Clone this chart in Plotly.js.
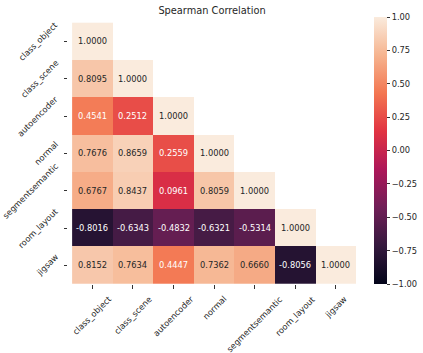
<!DOCTYPE html>
<html>
<head>
<meta charset="utf-8">
<script src="https://cdn.plot.ly/plotly-3.0.1.min.js"></script>
<style>
  html, body { margin: 0; padding: 0; background: #fff; }
  #chart { width: 423px; height: 353px; }
</style>
</head>
<body>
<div id="chart"></div>
<script>
// tasks, in matrix order
var tasks = ['class_object', 'class_scene', 'autoencoder', 'normal',
             'segmentsemantic', 'room_layout', 'jigsaw'];

// lower triangle of the Spearman matrix, one row per task
var rowClassObject    = [1.0000];
var rowClassScene     = [0.8095, 1.0000];
var rowAutoencoder    = [0.4541, 0.2512, 1.0000];
var rowNormal         = [0.7676, 0.8659, 0.2559, 1.0000];
var rowSegSemantic    = [0.6767, 0.8437, 0.0961, 0.8059, 1.0000];
var rowRoomLayout     = [-0.8016, -0.6343, -0.4832, -0.6321, -0.5314, 1.0000];
var rowJigsaw         = [0.8152, 0.7634, 0.4447, 0.7362, 0.6660, -0.8056, 1.0000];

var cbTicks = [-1, -0.75, -0.5, -0.25, 0, 0.25, 0.5, 0.75, 1];

var rows = [rowClassObject, rowClassScene, rowAutoencoder, rowNormal,
            rowSegSemantic, rowRoomLayout, rowJigsaw];

// pad upper triangle with nulls (masked cells)
var z = rows.map(function(r) {
    var full = r.slice();
    while (full.length < tasks.length) full.push(null);
    return full;
});

// seaborn "rocket"
var rocket = [
    [0.000, '#03051a'],
    [0.143, '#35193e'],
    [0.286, '#701f57'],
    [0.429, '#ad1759'],
    [0.571, '#e13342'],
    [0.714, '#f37651'],
    [0.857, '#f6b48f'],
    [1.000, '#faebdd']
];

var txt = '#262626';
var annotations = [];
rows.forEach(function(r, i) {
    r.forEach(function(v, j) {
        annotations.push({
            x: tasks[j], y: tasks[i], xref: 'x', yref: 'y',
            text: v.toFixed(4), showarrow: false,
            font: {family: 'DejaVu Sans', size: 8.3, color: v > 0.55 ? txt : '#ffffff'}
        });
    });
});

// rotated tick labels, centred like matplotlib's (ha=center on x, ha=right on y)
tasks.forEach(function(t) {
    annotations.push({
        x: t, xref: 'x', y: 0, yref: 'paper',
        xanchor: 'center', yanchor: 'top', yshift: -7,
        text: t, textangle: -45, showarrow: false,
        font: {family: 'DejaVu Sans', size: 8.3, color: txt}
    });
    annotations.push({
        x: 0, xref: 'paper', y: t, yref: 'y',
        xanchor: 'right', yanchor: 'middle', xshift: -5,
        text: t, textangle: -45, showarrow: false,
        font: {family: 'DejaVu Sans', size: 8.3, color: txt}
    });
});

var data = [{
    type: 'heatmap',
    x: tasks,
    y: tasks,
    z: z,
    zmin: -1,
    zmax: 1,
    colorscale: rocket,
    hoverongaps: false,
    xgap: 0, ygap: 0,
    colorbar: {
        x: 0.862, xanchor: 'left', xref: 'paper',
        y: 0.5, yanchor: 'middle',
        len: 1.0, lenmode: 'fraction',
        thickness: 13,
        xpad: 0, ypad: 0,
        outlinewidth: 0,
        ticks: 'outside', ticklen: 3.5, tickwidth: 1, tickcolor: '#333',
        tickvals: cbTicks,
        tickformat: '.2f',
        tickfont: {family: 'DejaVu Sans', size: 8.3, color: txt}
    }
}];

var layout = {
    width: 423,
    height: 353,
    margin: {l: 68, r: 0, t: 17, b: 69},
    paper_bgcolor: '#fff',
    plot_bgcolor: '#fff',
    font: {family: 'DejaVu Sans', color: txt},
    title: {
        text: 'Spearman Correlation',
        font: {family: 'DejaVu Sans', size: 9.8, color: txt},
        x: 0.4056, xref: 'paper', xanchor: 'center',
        y: 0.971, yanchor: 'middle'
    },
    xaxis: {
        type: 'category',
        domain: [0, 0.8113],
        automargin: false,
        showgrid: false, zeroline: false, showline: false,
        ticks: 'outside', ticklen: 3.5, tickcolor: '#333',
        showticklabels: false
    },
    yaxis: {
        type: 'category',
        autorange: 'reversed',
        automargin: false,
        showgrid: false, zeroline: false, showline: false,
        ticks: 'outside', ticklen: 3.5, tickcolor: '#333',
        showticklabels: false
    },
    annotations: annotations
};

Plotly.newPlot('chart', data, layout, {displayModeBar: false, staticPlot: true});
</script>
</body>
</html>
